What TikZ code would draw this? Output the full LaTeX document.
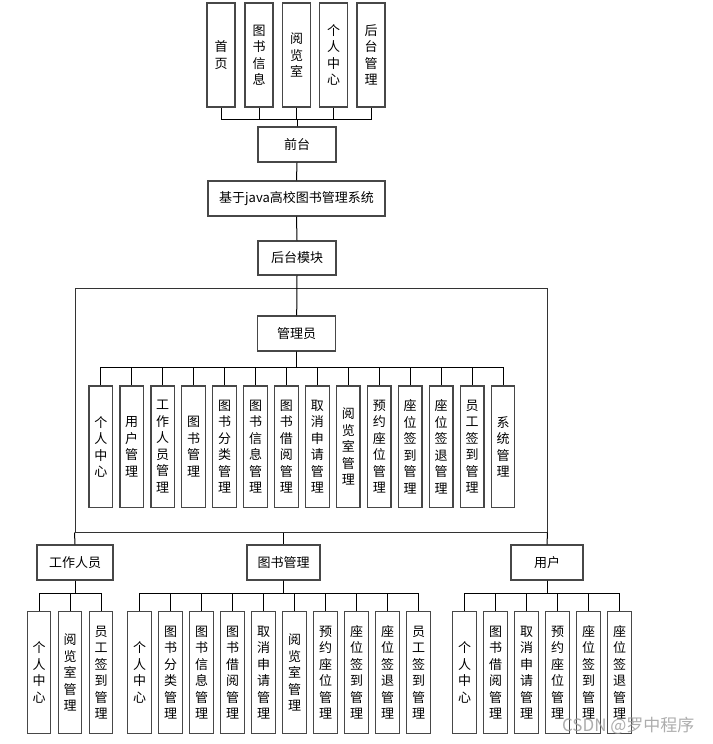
\documentclass[tikz,border=0pt]{standalone}
\usepackage{fontspec}
\setmainfont{Noto Sans CJK SC}
\begin{document}
\begin{tikzpicture}[x=1pt,y=-1pt,
  box/.style={draw=black!72, line width=1.3pt, fill=white, inner sep=0pt,
    font=\fontsize{13}{16.5}\selectfont, align=center},
  hbox/.style={box, minimum height=35pt},
  tbox/.style={box, minimum width=28pt, minimum height=104pt},
  vbox/.style={box, minimum width=23.6pt, minimum height=121.6pt},
  ln/.style={draw=black, line width=1pt},
  frm/.style={draw=black!80, line width=1pt, inner sep=0pt, minimum width=472pt, minimum height=244pt}]
\useasboundingbox (0,0) rectangle (712,744);

% top row
\foreach \t/\x [count=\i] in {首\\页/221, 图\\书\\信\\息/259, 阅\\览\\室/296.5, 个\\人\\中\\心/333.5, 后\\台\\管\\理/371}
  \node[tbox] (t\i) at (\x,55) {\t};
\node[hbox, minimum width=78pt] (qt) at (297,144.5) {前台};
\node[hbox, minimum width=177pt] (jy) at (296.5,198.5) {基于java高校图书管理系统};
\node[hbox, minimum width=78pt, minimum height=34pt] (ht) at (297,258) {后台模块};
\foreach \i in {1,...,5}
  \draw[ln] (qt.north) -- ++(0,-7) -| (t\i.south);
\draw[ln] (qt.south) -- (jy.north);
\draw[ln] (jy.south) -- (ht.north);

% frame
\node[frm] (frame) at (311,410) {};
\node[hbox, minimum width=78pt] (adm) at (296.7,333.5) {管理员};
\draw[ln] (ht.south) -- (adm.north);

\foreach \t [count=\i from 0] in {个\\人\\中\\心, 用\\户\\管\\理, 工\\作\\人\\员\\管\\理, 图\\书\\管\\理,
  图\\书\\分\\类\\管\\理, 图\\书\\信\\息\\管\\理, 图\\书\\借\\阅\\管\\理, 取\\消\\申\\请\\管\\理,
  阅\\览\\室\\管\\理, 预\\约\\座\\位\\管\\理, 座\\位\\签\\到\\管\\理, 座\\位\\签\\退\\管\\理,
  员\\工\\签\\到\\管\\理, 系\\统\\管\\理}{
  \node[vbox] (a\i) at ({100.8+30.94*\i},446.8) {\t};
  \draw[ln] (adm.south) -- ++(0,15.7) -| (a\i.north);
}

% lower tier
\node[hbox, minimum width=76pt] (gz) at (75,562.5) {工作人员};
\node[hbox, minimum width=73pt] (ts) at (283.5,562.5) {图书管理};
\node[hbox, minimum width=72pt] (yh) at (547,562.5) {用户};
\draw[ln] (frame.south west) -- (gz.north);
\draw[ln] (frame.south -| ts.north) -- (ts.north);
\draw[ln] (frame.south east) -- (yh.north);

\foreach \t [count=\i from 0] in {个\\人\\中\\心, 阅\\览\\室\\管\\理, 员\\工\\签\\到\\管\\理}{
  \node[vbox] (g\i) at ({39+31*\i},672.5) {\t};
  \draw[ln] (gz.south) -- ++(0,12.7) -| (g\i.north);
}
\foreach \t [count=\i from 0] in {个\\人\\中\\心, 图\\书\\分\\类\\管\\理, 图\\书\\信\\息\\管\\理, 图\\书\\借\\阅\\管\\理,
  取\\消\\申\\请\\管\\理, 阅\\览\\室\\管\\理, 预\\约\\座\\位\\管\\理, 座\\位\\签\\到\\管\\理,
  座\\位\\签\\退\\管\\理, 员\\工\\签\\到\\管\\理}{
  \node[vbox] (b\i) at ({139.5+31*\i},672.5) {\t};
  \draw[ln] (ts.south) -- ++(0,12.7) -| (b\i.north);
}
\foreach \t [count=\i from 0] in {个\\人\\中\\心, 图\\书\\借\\阅\\管\\理, 取\\消\\申\\请\\管\\理,
  预\\约\\座\\位\\管\\理, 座\\位\\签\\到\\管\\理, 座\\位\\签\\退\\管\\理}{
  \node[vbox] (u\i) at ({464.5+31*\i},672.5) {\t};
  \draw[ln] (yh.south) -- ++(0,12.7) -| (u\i.north);
}

% watermark
\node[text=black!40, opacity=0.8, font=\fontsize{17}{17}\selectfont, anchor=east] (wm) at (698,726) {CSDN @罗中程序};
\end{tikzpicture}
\end{document}
